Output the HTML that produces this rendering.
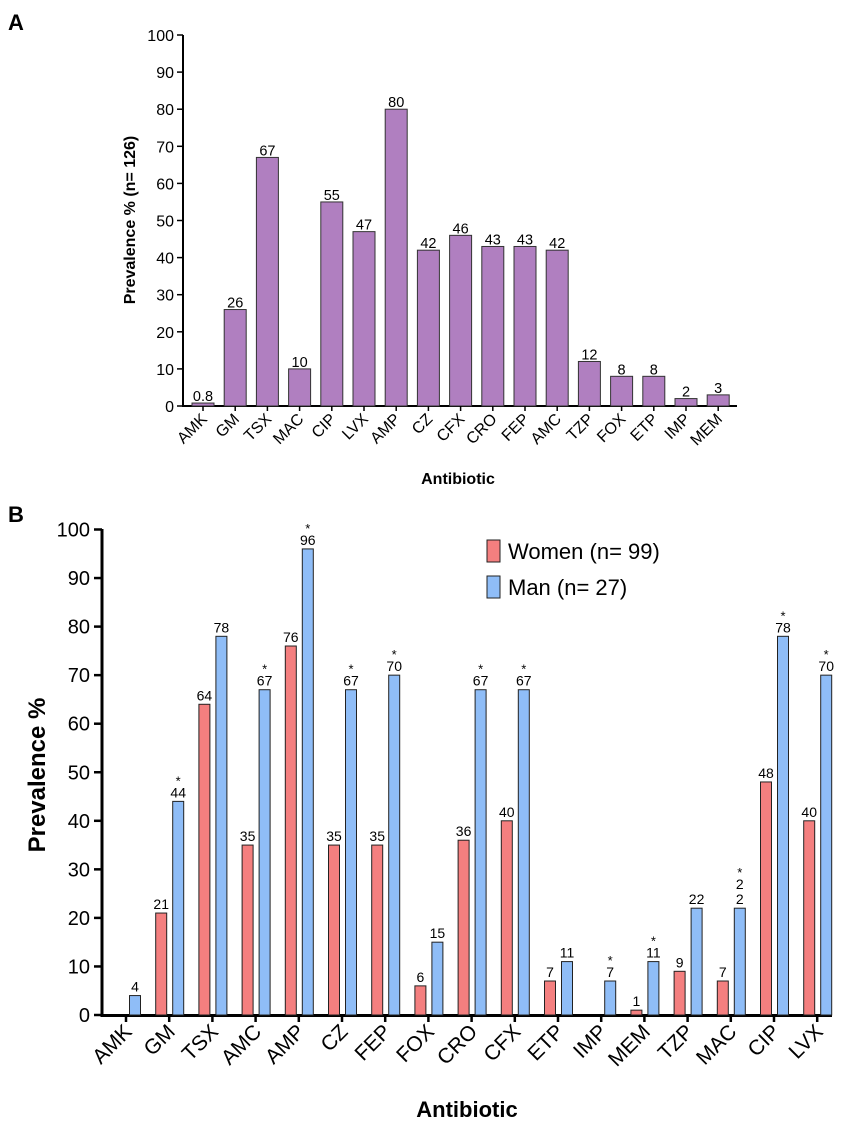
<!DOCTYPE html>
<html><head><meta charset="utf-8"><style>
body{margin:0;background:#fff;}
svg{display:block;font-family:"Liberation Sans",Arial,sans-serif;}
</style></head><body>
<svg id="c" width="851" height="1135"></svg>
<script>
const catsA=["AMK","GM","TSX","MAC","CIP","LVX","AMP","CZ","CFX","CRO","FEP","AMC","TZP","FOX","ETP","IMP","MEM"];
const valsA=[0.8,26,67,10,55,47,80,42,46,43,43,42,12,8,8,2,3];
const labA=["0.8","26","67","10","55","47","80","42","46","43","43","42","12","8","8","2","3"];
const catsB=["AMK","GM","TSX","AMC","AMP","CZ","FEP","FOX","CRO","CFX","ETP","IMP","MEM","TZP","MAC","CIP","LVX"];
const women=[0,21,64,35,76,35,35,6,36,40,7,0,1,9,7,48,40];
const man=[4,44,78,67,96,67,70,15,67,67,11,7,11,22,22,78,70];
const starMan=[0,1,0,1,1,1,1,0,1,1,0,1,1,0,1,1,1];
const ticks=[0,10,20,30,40,50,60,70,80,90,100];
const NS="http://www.w3.org/2000/svg";
const svg=document.getElementById('c');
function el(t,a,txt){const e=document.createElementNS(NS,t);for(const k in a)e.setAttribute(k,a[k]);if(txt!==undefined)e.textContent=txt;svg.appendChild(e);return e;}
let e=el('text',{x:8,y:30,'font-size':22,'font-weight':'bold'},'A');

e=el('text',{x:8,y:522,'font-size':22,'font-weight':'bold'},'B');

// ---- Chart A
const yA=v=>406-v*3.71, xA=i=>203+i*32.2;
e=el('line',{x1:183,y1:35,x2:183,y2:407,stroke:'#000','stroke-width':2});

e=el('line',{x1:182,y1:406,x2:737,y2:406,stroke:'#000','stroke-width':2});

ticks.forEach(t=>{
 el('line',{x1:177,y1:yA(t),x2:183,y2:yA(t),stroke:'#000','stroke-width':1.5});
 e=el('text',{x:174,y:yA(t)+6,'font-size':16,'text-anchor':'end'},t);
 
});
catsA.forEach((c,i)=>{
 const x=xA(i),v=valsA[i];
 e=el('rect',{x:x-11,y:yA(v),width:22,height:406-yA(v),fill:'#b07fc0',stroke:'#333','stroke-width':1});
 
 e=el('text',{x:x,y:yA(v)-2,'font-size':14.5,'text-anchor':'middle'},labA[i]);
 
 el('line',{x1:x,y1:406,x2:x,y2:411,stroke:'#000','stroke-width':1.5});
 e=el('text',{x:x+5,y:420,'font-size':16,'text-anchor':'end',transform:`rotate(-45 ${x+5} 420)`},c);
 
});
e=el('text',{x:458,y:484,'font-size':16,'font-weight':'bold','text-anchor':'middle'},'Antibiotic');

e=el('text',{x:135,y:220,'font-size':16,'font-weight':'bold','text-anchor':'middle',transform:'rotate(-90 135 220)'},'Prevalence % (n= 126)');

// ---- Chart B
const yB=v=>1015-v*4.855, xB=i=>126+i*43.2;
e=el('line',{x1:102,y1:529,x2:102,y2:1017,stroke:'#000','stroke-width':3});

e=el('line',{x1:101,y1:1015.5,x2:832,y2:1015.5,stroke:'#000','stroke-width':3});

ticks.forEach(t=>{
 el('line',{x1:94,y1:yB(t),x2:102,y2:yB(t),stroke:'#000','stroke-width':2.5});
 e=el('text',{x:90,y:yB(t)+7,'font-size':20,'text-anchor':'end'},t);
 
});
catsB.forEach((c,i)=>{
 const x=xB(i);
 if(women[i]>0){
  e=el('rect',{x:x-13.5,y:yB(women[i]),width:11,height:1015-yB(women[i]),fill:'#f47f7f',stroke:'#222','stroke-width':1});
  
  e=el('text',{x:x-8,y:yB(women[i])-4,'font-size':14,'text-anchor':'middle'},women[i]);
  
 }
 e=el('rect',{x:x+3.5,y:yB(man[i]),width:11,height:1015-yB(man[i]),fill:'#8fbdf7',stroke:'#222','stroke-width':1});
 
 let ly=yB(man[i])-4;
 if(c==="MAC"){
  e=el('text',{x:x+9,y:ly,'font-size':14,'text-anchor':'middle'},'2');
  
  e=el('text',{x:x+9,y:ly-15,'font-size':14,'text-anchor':'middle'},'2');
  
  ly-=15;
 } else {
  e=el('text',{x:x+9,y:ly,'font-size':14,'text-anchor':'middle'},man[i]);
  
 }
 if(starMan[i]){
  e=el('text',{x:x+9,y:ly-12,'font-size':13,'text-anchor':'middle'},'*');
  
 }
 el('line',{x1:x,y1:1015,x2:x,y2:1022,stroke:'#000','stroke-width':2.5});
 e=el('text',{x:x+7,y:1033,'font-size':21,'text-anchor':'end',transform:`rotate(-45 ${x+7} 1033)`},c);
 
});
e=el('text',{x:467,y:1117,'font-size':22,'font-weight':'bold','text-anchor':'middle'},'Antibiotic');

e=el('text',{x:45,y:775,'font-size':24,'font-weight':'bold','text-anchor':'middle',transform:'rotate(-90 45 775)'},'Prevalence %');

e=el('rect',{x:487,y:540,width:13,height:22,fill:'#f47f7f',stroke:'#222','stroke-width':1});

e=el('text',{x:508,y:559,'font-size':22},'Women (n= 99)');

e=el('rect',{x:487,y:576,width:13,height:22,fill:'#8fbdf7',stroke:'#222','stroke-width':1});

e=el('text',{x:508,y:595,'font-size':22},'Man (n= 27)');

</script>
</body></html>
